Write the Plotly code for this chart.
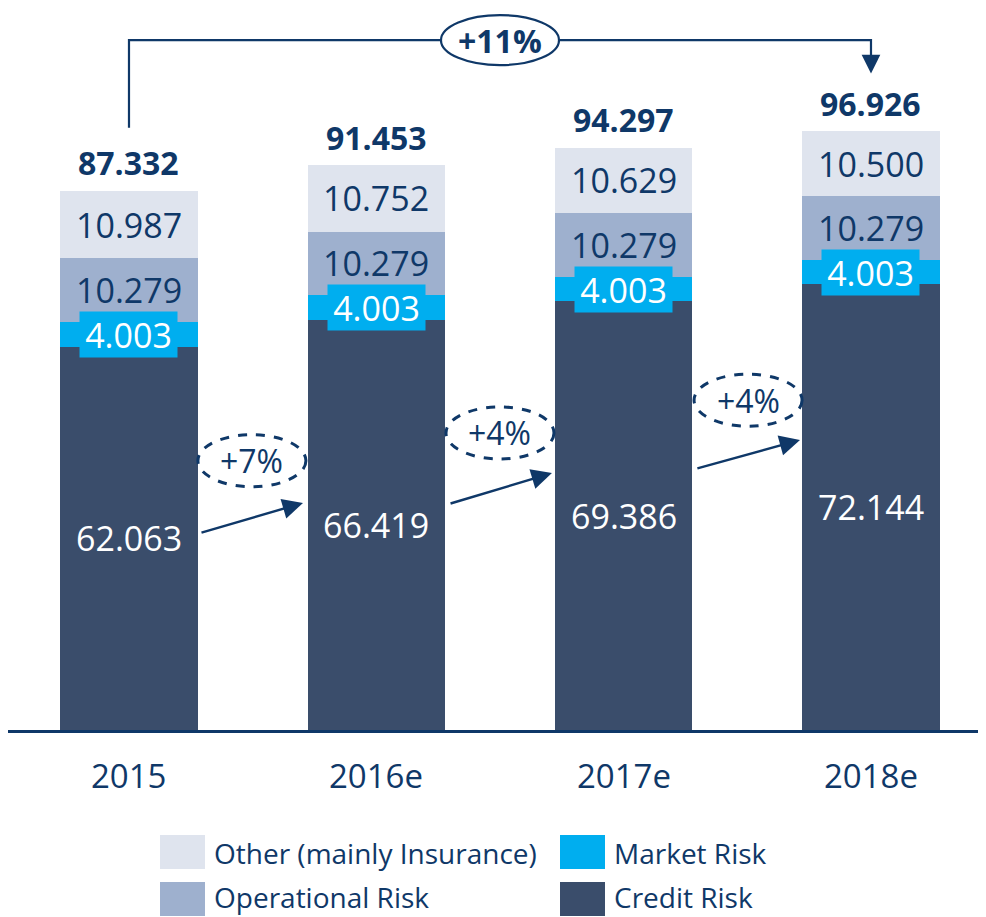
import plotly.graph_objects as go

years = ["2015", "2016e", "2017e", "2018e"]
credit = [62.063, 66.419, 69.386, 72.144]
market = [4.003, 4.003, 4.003, 4.003]
operational = [10.279, 10.279, 10.279, 10.279]
other = [10.987, 10.752, 10.629, 10.500]
totals = [87.332, 91.453, 94.297, 96.926]
growth_labels = ["+7%", "+4%", "+4%"]
overall_growth = "+11%"

C_CREDIT = "#3A4D6B"
C_MARKET = "#00AEEF"
C_OPER = "#9EB0CE"
C_OTHER = "#DFE4EE"
NAVY = "#0F3868"
FONT = "Open Sans"

# page body adds an 8px offset; figure sized so it ends at the window edge
OFF = 8
W, H = 986 - OFF, 917 - OFF
ML, MB = 0, 187
PLOT_H = H - MB
YMAX = PLOT_H / 6.176
XR = [-0.4892, 3.465]
BAR_W = 0.554

fig = go.Figure()
for name, vals, col in [("Credit Risk", credit, C_CREDIT), ("Market Risk", market, C_MARKET),
                        ("Operational Risk", operational, C_OPER),
                        ("Other (mainly Insurance)", other, C_OTHER)]:
    fig.add_trace(go.Bar(x=list(range(len(years))), y=vals, name=name, marker_color=col,
                         marker_line_width=0, width=BAR_W, showlegend=False, hoverinfo="y+name"))

ann = []
shapes = []
for i in range(len(years)):
    b1 = credit[i]
    b2 = b1 + market[i]
    b3 = b2 + operational[i]
    b4 = b3 + other[i]
    ann.append(dict(x=i, y=b1 / 2, text=f"{credit[i]:.3f}", showarrow=False,
                    font=dict(family=FONT, size=34, color="white")))
    ann.append(dict(x=i, y=(b1 + b2) / 2, text=f"{market[i]:.3f}", showarrow=False,
                    bgcolor=C_MARKET, width=97, height=45, borderpad=0,
                    font=dict(family=FONT, size=34, color="white")))
    ann.append(dict(x=i, y=(b2 + b3) / 2, text=f"{operational[i]:.3f}", showarrow=False,
                    font=dict(family=FONT, size=34, color=NAVY)))
    ann.append(dict(x=i, y=(b3 + b4) / 2, text=f"{other[i]:.3f}", showarrow=False,
                    font=dict(family=FONT, size=34, color=NAVY)))
    ann.append(dict(x=i, y=totals[i], yshift=28, text=f"<b>{totals[i]:.3f}</b>", showarrow=False,
                    font=dict(family=FONT, size=32, color=NAVY)))

# year-over-year growth arrows (decoration)
arrows = [((0.287, 31.9), (0.7035, 36.76), (0.497, 43.6)),
          ((1.294, 36.6), (1.710, 41.6), (1.5, 48.1)),
          ((2.292, 42.3), (2.713, 46.96), (2.503, 53.4))]
for (s, e, c), lab in zip(arrows, growth_labels):
    ann.append(dict(x=e[0], y=e[1], ax=s[0], ay=s[1], axref="x", ayref="y", xref="x", yref="y",
                    showarrow=True, arrowhead=2, arrowsize=1.7, arrowwidth=2.4, arrowcolor=NAVY,
                    text=""))
    shapes.append(dict(type="circle", xref="x", yref="y", xsizemode="pixel", ysizemode="pixel",
                       xanchor=c[0], yanchor=c[1], x0=-54, x1=54, y0=-26, y1=26,
                       line=dict(color=NAVY, width=3, dash="dash"), fillcolor="rgba(0,0,0,0)"))
    ann.append(dict(x=c[0], y=c[1], text=lab, showarrow=False,
                    font=dict(family=FONT, size=32, color=NAVY)))

# overall connector
y_top = 111.7
shapes.append(dict(type="path", xref="x", yref="y", path=f"M 0,97.5 L 0,{y_top} L 3,{y_top} L 3,108.5",
                   line=dict(color=NAVY, width=2.2)))
ann.append(dict(x=3, y=106.3, ax=3, ay=109.5, axref="x", ayref="y", showarrow=True, arrowhead=2,
                arrowsize=1.7, arrowwidth=2.2, arrowcolor=NAVY, text=""))
shapes.append(dict(type="circle", xref="x", yref="y", xsizemode="pixel", ysizemode="pixel",
                   xanchor=1.5, yanchor=y_top, x0=-59, x1=59, y0=-25, y1=25,
                   line=dict(color=NAVY, width=2.2), fillcolor="white"))
ann.append(dict(x=1.5, y=y_top, text=f"<b>{overall_growth}</b>", showarrow=False,
                font=dict(family=FONT, size=32, color=NAVY)))

# year labels
for i, yr in enumerate(years):
    ann.append(dict(x=i, y=0, yshift=-45, text=yr, showarrow=False,
                    font=dict(family=FONT, size=33, color=NAVY)))

# manual legend (positions given in window pixels)
def px(xp):
    return (xp - OFF - ML) / (W - ML)

def py(yp):
    return (PLOT_H - (yp - OFF)) / PLOT_H

legend_items = [("Other (mainly Insurance)", C_OTHER, 160, 835, 853), ("Market Risk", C_MARKET, 560, 835, 853),
                ("Operational Risk", C_OPER, 160, 882, 897), ("Credit Risk", C_CREDIT, 560, 882, 897)]
for name, col, lx, ly, ty in legend_items:
    shapes.append(dict(type="rect", xref="paper", yref="paper", x0=px(lx), x1=px(lx + 45),
                       y0=py(ly), y1=py(ly + 34), fillcolor=col, line=dict(width=0)))
    ann.append(dict(xref="paper", yref="paper", x=px(lx + 53), y=py(ty), xanchor="left",
                    yanchor="middle", text=name, showarrow=False, borderpad=0,
                    font=dict(family=FONT, size=28, color=NAVY)))

fig.update_layout(
    barmode="stack", width=W, height=H, margin=dict(l=ML, r=0, t=0, b=MB),
    paper_bgcolor="white", plot_bgcolor="white",
    xaxis=dict(range=XR, showticklabels=False, showline=True, linecolor=NAVY, linewidth=2.5,
               showgrid=False, zeroline=False, ticks=""),
    yaxis=dict(range=[0, YMAX], visible=False, showgrid=False, zeroline=False),
    annotations=ann, shapes=shapes, showlegend=False,
)
fig.write_html("out.html")
